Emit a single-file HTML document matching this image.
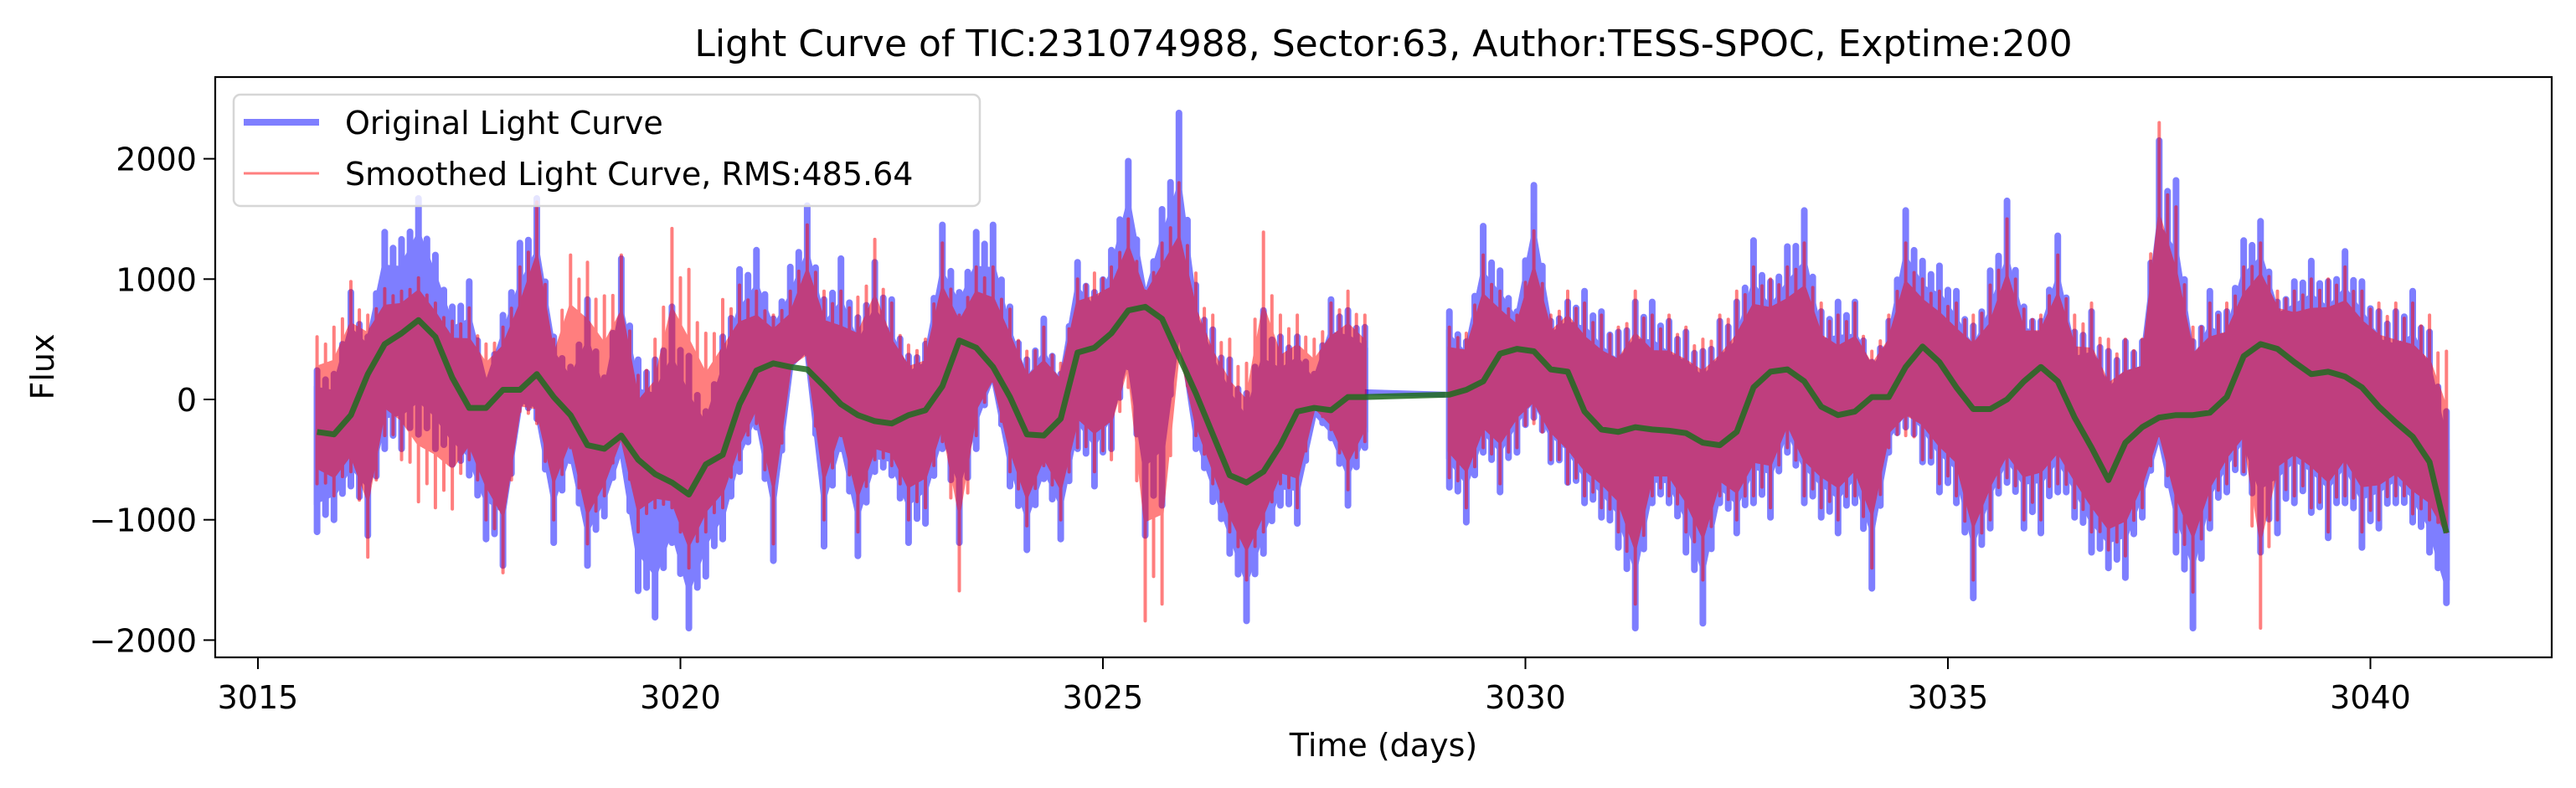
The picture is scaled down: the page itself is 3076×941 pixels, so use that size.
<!DOCTYPE html>
<html><head><meta charset="utf-8"><style>
html,body{margin:0;padding:0;background:#fff;}
svg{display:block;font-family:"DejaVu Sans","Liberation Sans",sans-serif;}
</style></head><body>
<svg id="chart" width="3076" height="941" viewBox="0 0 3076 941" xmlns="http://www.w3.org/2000/svg">
<rect x="0" y="0" width="3076" height="941" fill="#fff"/>
<g id="plot"></g>
</svg>
<script>
// segment start times and step (days)
const segStarts = [3015.7, 3029.1];
const step = 0.2;
// Original light curve (blue) envelope: highs and lows per bin
const blueHi1 = [240,210,890,520,1390,1330,1670,1200,770,980,150,700,1300,1670,520,270,830,180,1170,330,330,770,360,-100,520,1080,1240,670,1100,1610,830,1170,680,
 1140,830,360,460,1450,890,1390,1450,770,330,670,210,1140,890,1240,1980,830,1580,2380,950,580,330,50,740,520,520,210,830,740,600];
const blueLo1 = [-1100,-1000,-720,-1130,-410,-410,-290,-410,-540,-630,-1160,-1380,-40,-160,-1190,-510,-1380,-970,-410,-1590,-1810,-1190,-1900,-1470,-1160,-600,-230,-1340,300,520,-1220,-410,-1300,
 -600,-630,-1190,-1030,-410,-1190,-410,210,-720,-1250,-660,-1160,-410,-720,-410,270,-1130,-880,830,-410,-850,-1280,-1840,-1280,-880,-1030,-100,-320,-880,-400];
const blueHi2 = [730,480,1440,1070,730,1780,650,810,900,730,560,810,810,650,560,400,650,810,1320,980,1270,1570,730,810,810,310,650,1570,1150,1110,
 900,610,1070,1650,770,650,1360,560,730,400,480,480,2150,1820,480,900,730,1320,1480,810,980,1150,980,1230,980,730,730,900,560,-100];
const blueLo2 = [-730,-1020,-440,-770,-440,-150,-520,-690,-860,-980,-1230,-1900,-860,-860,-1270,-1860,-860,-1110,-860,-980,-440,-860,-980,-1110,-860,-1570,-440,-230,-520,-770,
 -860,-1650,-1070,-690,-1070,-1110,-770,-980,-1270,-1400,-1480,-980,-310,-1270,-1900,-1070,-770,-610,-1270,-1110,-860,-940,-1150,-860,-1230,-1070,-860,-1020,-1270,-1690];
// Smoothed light curve (red) envelope
const redHi1 = [520,600,980,700,920,900,1010,800,650,760,460,600,1100,1640,500,1200,1140,860,1200,200,500,1420,1080,550,830,950,900,700,900,1450,900,900,850,
 1330,800,450,500,1300,700,1100,1100,750,400,600,300,1000,1050,1100,1500,900,1300,1800,1050,700,500,300,1390,700,700,500,800,900,700];
const redLo1 = [-700,-800,-600,-1310,-300,-500,-850,-900,-910,-500,-1000,-1440,-100,-200,-1000,-400,-1200,-800,-300,-1100,-900,-900,-1400,-1100,-900,-500,-200,-1200,300,450,-1000,-300,-1100,
 -500,-550,-1000,-900,-350,-1590,-300,150,-600,-1050,-550,-1000,-400,-600,-500,100,-1840,-1700,500,-300,-700,-1100,-1500,-1100,-700,-900,-50,-250,-750,-350];
const redHi2 = [600,550,1200,900,700,1400,700,900,800,700,600,900,700,700,600,500,700,900,1100,1000,1100,1300,800,700,800,400,700,1300,1000,900,
 800,700,950,1500,750,700,1200,700,800,500,500,500,2300,1600,600,800,800,1100,1300,900,900,1000,1000,1100,900,800,800,800,700,400];
const redLo2 = [-650,-900,-400,-700,-400,-200,-500,-700,-800,-900,-1100,-1700,-800,-800,-1100,-1500,-800,-1000,-800,-900,-400,-800,-900,-1000,-800,-1400,-400,-300,-500,-700,
 -800,-1500,-1000,-650,-1000,-1000,-700,-900,-1100,-1250,-1300,-900,-300,-1100,-1600,-1000,-700,-600,-1900,-1000,-800,-900,-1100,-800,-1100,-1000,-800,-950,-1000,-1100];
// Smoothed trend (green)
const green1 = [-270,-290,-130,210,460,550,660,520,180,-70,-70,80,80,210,20,-130,-380,-410,-300,-500,-620,-690,-790,-540,-460,-40,240,300,270,250,110,-40,-130,
 -180,-200,-130,-90,110,490,430,270,20,-290,-300,-160,390,430,550,740,770,670,360,50,-290,-630,-690,-600,-380,-100,-70,-90,20,20];
const green2 = [40,80,150,380,420,400,250,230,-100,-250,-270,-230,-250,-260,-280,-360,-380,-270,100,230,250,150,-60,-130,-100,20,20,270,440,310,
 100,-80,-80,0,150,270,150,-150,-400,-670,-360,-230,-150,-130,-130,-110,20,360,460,420,310,210,230,190,100,-60,-190,-310,-520,-1110];
const xTicks = [3015,3020,3025,3030,3035,3040];
const yTicks = [-2000,-1000,0,1000,2000];

const L=257,R=3047,T=92,B=785;
const xs = t => 308 + (t-3015)*100.9;
const ys = v => 477 - v*0.1437;
const NS='http://www.w3.org/2000/svg';
const g=document.getElementById('plot');
function el(tag,attrs,parent){const e=document.createElementNS(NS,tag);for(const k in attrs)e.setAttribute(k,attrs[k]);(parent||g).appendChild(e);return e;}

const defs=el('defs',{});
const cp=el('clipPath',{id:'clip'},defs);
el('rect',{x:L,y:T,width:R-L,height:B-T},cp);
const pg=el('g',{'clip-path':'url(#clip)'});

function series(hi,lo,tr,t0,color,sw,name){
  const grp=el('g',{opacity:0.5},pg);
  
  
  let top=[],bot=[];
  for(let i=0;i<hi.length;i++){const t=t0+i*step;top.push(xs(t).toFixed(1)+','+ys(tr[i]+0.68*(hi[i]-tr[i])).toFixed(1));}
  for(let i=lo.length-1;i>=0;i--){const t=t0+i*step;bot.push(xs(t).toFixed(1)+','+ys(tr[i]+0.68*(lo[i]-tr[i])).toFixed(1));}
  el('polygon',{points:top.concat(bot).join(' '),fill:color,stroke:color,'stroke-width':sw},grp);
  let d='';
  for(let i=0;i<hi.length;i++){
    const x=xs(t0+i*step);
    d+='M'+x.toFixed(1)+' '+ys(lo[i]).toFixed(1)+'V'+ys(hi[i]).toFixed(1);
    if(i<hi.length-1){
      const x2=xs(t0+(i+0.5)*step);
      const h=0.5*(hi[i]+hi[i+1]), l=0.5*(lo[i]+lo[i+1]), m=0.5*(tr[i]+tr[i+1]);
      d+='M'+x2.toFixed(1)+' '+ys(m+0.88*(l-m)).toFixed(1)+'V'+ys(m+0.88*(h-m)).toFixed(1);
    }
  }
  el('path',{d:d,fill:'none',stroke:color,'stroke-width':sw,'stroke-linecap':'round'},grp);
}
series(blueHi1,blueLo1,green1,segStarts[0],'#0000ff',8,'original-curve-segment-1');
series(blueHi2,blueLo2,green2,segStarts[1],'#0000ff',8,'original-curve-segment-2');
const gapLine=el('line',{x1:xs(segStarts[0]+step*(green1.length-1)),y1:ys(60),x2:xs(segStarts[1]-0.05),y2:ys(40),stroke:'#0000ff','stroke-opacity':0.5,'stroke-width':7},pg);


series(redHi1,redLo1,green1,segStarts[0],'#ff0000',4,'smoothed-curve-segment-1');
series(redHi2,redLo2,green2,segStarts[1],'#ff0000',4,'smoothed-curve-segment-2');

let gp=[];
green1.forEach((v,i)=>gp.push(xs(segStarts[0]+i*step).toFixed(1)+','+ys(v).toFixed(1)));
green2.forEach((v,i)=>gp.push(xs(segStarts[1]+i*step).toFixed(1)+','+ys(v).toFixed(1)));
const gl=el('polyline',{points:gp.join(' '),fill:'none',stroke:'#1f6b1f','stroke-opacity':0.85,'stroke-width':7,'stroke-linejoin':'round'},pg);



const fr=el('rect',{x:L,y:T,width:R-L,height:B-T,fill:'none',stroke:'#000','stroke-width':2.2});



xTicks.forEach(t=>{
  const x=xs(t);
  const tk=el('line',{x1:x,y1:B,x2:x,y2:B+14,stroke:'#000','stroke-width':2});
  
  
  const tx=el('text',{x:x,y:846,'font-size':38,'text-anchor':'middle',fill:'#000'});
  tx.textContent=t;
  
  
});
yTicks.forEach(v=>{
  const y=ys(v);
  const tk=el('line',{x1:L-14,y1:y,x2:L,y2:y,stroke:'#000','stroke-width':2});
  
  
  const tx=el('text',{x:L-22,y:y+14,'font-size':38,'text-anchor':'end',fill:'#000'});
  tx.textContent=(v<0?'\u2212'+(-v):v);
  
  
});
</script>
<svg style="position:absolute;left:0;top:0" width="3076" height="941" viewBox="0 0 3076 941" xmlns="http://www.w3.org/2000/svg" font-family="DejaVu Sans, Liberation Sans, sans-serif">
<text x="1652" y="67" font-size="44" text-anchor="middle">Light Curve of TIC:231074988, Sector:63, Author:TESS-SPOC, Exptime:200</text>
<text x="1652" y="903" font-size="38" text-anchor="middle">Time (days)</text>
<text x="0" y="0" font-size="38" text-anchor="middle" transform="translate(64,438) rotate(-90)">Flux</text>
<g>
<rect x="279" y="113" width="891" height="133" rx="8" fill="#fff" fill-opacity="0.8" stroke="#d6d6d6" stroke-width="2.5"/>
<line x1="291" y1="146" x2="381" y2="146" stroke="#0000ff" stroke-opacity="0.5" stroke-width="8"/>
<text x="412" y="160" font-size="38">Original Light Curve</text>
<line x1="291" y1="207" x2="381" y2="207" stroke="#ff0000" stroke-opacity="0.5" stroke-width="3"/>
<text x="412" y="221" font-size="38">Smoothed Light Curve, RMS:485.64</text>
</g>
</svg>
</body></html>
